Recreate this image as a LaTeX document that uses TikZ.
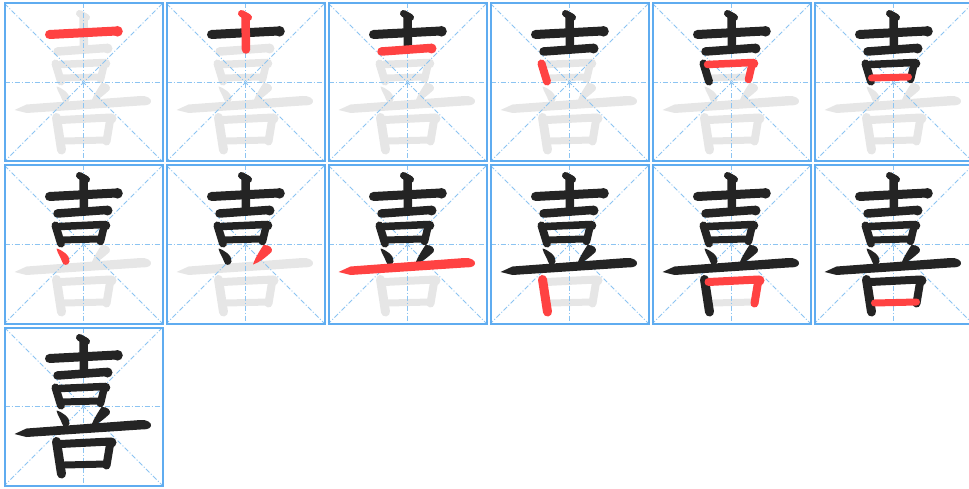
\documentclass[tikz,border=0pt]{standalone}
\usepackage{tikz}
\definecolor{framecol}{RGB}{95,172,240}
\definecolor{guidecol}{RGB}{140,196,242}
\definecolor{strokedone}{RGB}{36,36,36}
\definecolor{strokecur}{RGB}{255,66,66}
\definecolor{strokegray}{RGB}{230,230,230}
\tikzset{
  frame/.style={draw=framecol,line width=2pt},
  guide/.style={draw=guidecol,line width=0.9pt,dash pattern=on 5pt off 2pt on 1pt off 2pt},
  stk/.style={line width=#1,line cap=round,line join=round},
  stk/.default=8pt
}
\newcommand\xistroke[1]{%
  \ifcase#1 \or
    \draw[stk=9pt,curcol] (45,31) -- (112,27.5); \fill[curcol] (113,27.8) circle (5.3pt);
  \or
    \draw[stk=8.5pt,curcol] (79,13) -- (79.5,46); \draw[stk=7pt,curcol] (75,10) -- (82,14);
  \or
    \draw[stk=8.5pt,curcol] (53,48) -- (102,44.5); \fill[curcol] (103,45) circle (5pt);
  \or
    \draw[stk=8pt,curcol] (51,60) -- (56.5,78);
  \or
    \draw[stk=7.5pt,curcol] (55,61) -- (100,59) -- (96,76); \fill[curcol] (101,60) circle (4.8pt);
  \or
    \draw[stk=7pt,curcol] (57,74.5) -- (94,73.5);
  \or
    \fill[curcol] (52,83) .. controls (57,84) and (66,90) .. (65,96) .. controls (64,101) and (58,100) .. (57.5,96) .. controls (56.5,92) and (53,88) .. cycle;
  \or
    \fill[curcol] (97,79.5) .. controls (103,79) and (107,83) .. (105,86.5) .. controls (99,92) and (93,97) .. (86.5,99) .. controls (88,94) and (92,87) .. cycle;
  \or
    \fill[curcol] (10,106.5) -- (22,101) -- (136,92.5) .. controls (142,92) and (147.5,95) .. (146.5,98.5) .. controls (145.5,102) and (140,102) .. (136,102) -- (22,109.5) -- cycle;
  \or
    \draw[stk=9pt,curcol] (52,114) -- (57,146.5);
  \or
    \draw[stk=8pt,curcol] (56,116.5) -- (106,114) -- (102,138); \fill[curcol] (107,115) circle (5pt);
  \or
    \draw[stk=7pt,curcol] (60,137.5) -- (102,136.5);
  \fi}
\begin{document}
\begin{tikzpicture}[x=1pt,y=-1pt]
\useasboundingbox (0,0) rectangle (969,489);
\clip (0,0) rectangle (969,489);
\foreach \k in {1,...,13}{
  \pgfmathtruncatemacro\pc{mod(\k-1,6)}
  \pgfmathtruncatemacro\pr{div(\k-1,6)}
  \begin{scope}[shift={(4.5+162*\pc,3.5+162*\pr)}]
    \colorlet{curcol}{strokegray}
    \foreach \s in {1,...,12}{\ifnum\s>\k \xistroke{\s}\fi}
    \draw[guide] (0,0) -- (158,158);
    \draw[guide] (158,0) -- (0,158);
    \draw[guide] (79,0) -- (79,158);
    \draw[guide] (0,79) -- (158,79);
    \foreach \s in {1,...,12}{
      \ifnum\s<\k \colorlet{curcol}{strokedone}\xistroke{\s}\fi
      \ifnum\s=\k \colorlet{curcol}{strokecur}\xistroke{\s}\fi}
    \draw[frame] (0,0) rectangle (158,158);
  \end{scope}
}
\end{tikzpicture}
\end{document}
